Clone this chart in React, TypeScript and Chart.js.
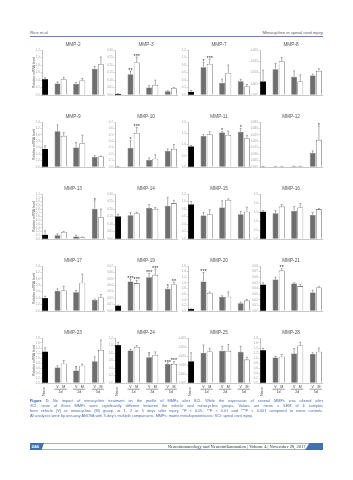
import React, { useEffect, useRef } from "react";
import { Chart, registerables } from "chart.js";

Chart.register(...registerables);
Chart.defaults.font.family = "'Liberation Sans', Arial, sans-serif";

// ---------------- DATA ----------------
const TITLES = [
  "MMP-2", "MMP-3", "MMP-7", "MMP-8",
  "MMP-9", "MMP-10", "MMP-11", "MMP-12",
  "MMP-13", "MMP-14", "MMP-15", "MMP-16",
  "MMP-17", "MMP-19", "MMP-20", "MMP-21",
  "MMP-23", "MMP-24", "MMP-25", "MMP-28",
];

const SLOT_LABELS = ["Naive", "", "V", "M", "", "V", "M", "", "V", "M"];
const DAY_LABELS = ["1d", "2d", "5d"];
const Y_AXIS_TITLE = "Relative mRNA level";

const Y_MAX = [1.2, 0.3, 1.2, 0.02, 1.4, 0.7, 2.0, 0.035, 1.2, 0.3, 1.2, 2.5, 1.4, 0.07, 1.6, 0.08, 1.8, 1.2, 0.025, 1.8];
const Y_STEP = [0.2, 0.05, 0.2, 0.005, 0.2, 0.1, 0.5, 0.005, 0.1, 0.05, 0.2, 0.5, 0.2, 0.01, 0.2, 0.01, 0.2, 0.2, 0.005, 0.2];
const Y_DECIMALS = [1, 2, 1, 3, 1, 1, 1, 3, 1, 2, 1, 1, 1, 2, 1, 2, 1, 1, 3, 1];

const NAIVE_MEAN = [0.42, 0.007, 0.08, 0.006, 0.56, 0.005, 0.91, 0.0001, 0.11, 0.15, 0.92, 1.51, 0.4, 0.0082, 0.07, 0.0467, 1.25, 1.01, 0.012, 1.31];
const NAIVE_SEM = [0.04, 0.002, 0.04, 0.005, 0.1, 0.001, 0.05, 0.0001, 0.11, 0.015, 0.08, 0.07, 0.06, 0.001, 0.01, 0.0035, 0.16, 0.07, 0.0048, 0.08];

// vehicle (V) at 1d, 2d, 5d
const VEHICLE_MEAN = [
  [0.31, 0.3, 0.7], [0.138, 0.05, 0.025], [0.74, 0.32, 0.37], [0.0114, 0.0081, 0.0087],
  [1.11, 0.61, 0.31], [0.3, 0.11, 0.25], [1.38, 1.53, 1.57], [0.0003, 0.0005, 0.0108],
  [0.1, 0.07, 0.81], [0.159, 0.207, 0.221], [0.63, 0.84, 0.66], [1.43, 1.56, 1.34],
  [0.63, 0.58, 0.34], [0.046, 0.0526, 0.0347], [1.05, 0.51, 0.28], [0.0561, 0.049, 0.0327],
  [0.62, 0.5, 0.87], [0.87, 0.69, 0.51], [0.0168, 0.0179, 0.0173], [1.02, 1.18, 1.16],
];
const VEHICLE_SEM = [
  [0.04, 0.04, 0.06], [0.022, 0.013, 0.004], [0.13, 0.1, 0.05], [0.0027, 0.0026, 0.0005],
  [0.2, 0.15, 0.05], [0.11, 0.03, 0.03], [0.06, 0.04, 0.15], [0.0001, 0.0001, 0.0018],
  [0.04, 0.03, 0.21], [0.017, 0.022, 0.057], [0.08, 0.18, 0.08], [0.15, 0.24, 0.13],
  [0.06, 0.06, 0.03], [0.004, 0.0061, 0.0026], [0.32, 0.03, 0.04], [0.0041, 0.0012, 0.0041],
  [0.07, 0.07, 0.18], [0.03, 0.06, 0.03], [0.0043, 0.0026, 0.0031], [0.05, 0.2, 0.05],
];
// minocycline (M) at 1d, 2d, 5d
const MINO_MEAN = [
  [0.42, 0.39, 0.82], [0.217, 0.068, 0.045], [0.83, 0.59, 0.23], [0.015, 0.006, 0.0107],
  [0.97, 0.74, 0.33], [0.53, 0.13, 0.28], [1.46, 1.43, 1.28], [0.0003, 0.0005, 0.0211],
  [0.19, 0.05, 0.58], [0.172, 0.201, 0.238], [0.66, 1.04, 0.73], [1.8, 1.75, 1.65],
  [0.64, 0.88, 0.42], [0.0434, 0.0562, 0.0414], [0.64, 0.51, 0.37], [0.0718, 0.0444, 0.042],
  [0.77, 0.69, 1.32], [0.96, 0.75, 0.51], [0.0175, 0.0179, 0.013], [1.05, 1.5, 1.25],
];
const MINO_SEM = [
  [0.05, 0.05, 0.19], [0.036, 0.031, 0.005], [0.13, 0.21, 0.05], [0.0017, 0.003, 0.001],
  [0.1, 0.25, 0.01], [0.09, 0.06, 0.07], [0.11, 0.16, 0.13], [0.0001, 0.0001, 0.0108],
  [0.01, 0.005, 0.22], [0.007, 0.009, 0.02], [0.12, 0.03, 0.12], [0.11, 0.22, 0.04],
  [0.13, 0.27, 0.09], [0.0041, 0.0092, 0.0036], [0.03, 0.17, 0.04], [0.0035, 0.0029, 0.0012],
  [0.13, 0.07, 0.4], [0.04, 0.08, 0.06], [0.0018, 0.0035, 0.0013], [0.09, 0.13, 0.15],
];
const VEHICLE_SIG = [
  ["", "", ""], ["**", "", ""], ["*", "", ""], ["", "", ""],
  ["", "", ""], ["*", "", ""], ["", "*", "*"], ["", "", ""],
  ["", "", "*"], ["", "", ""], ["", "", ""], ["", "", ""],
  ["", "", ""], ["***", "***", "*"], ["***", "", ""], ["", "", ""],
  ["", "*", ""], ["", "*", "***"], ["", "", ""], ["", "", ""],
];
const MINO_SIG = [
  ["", "", ""], ["***", "", ""], ["***", "", ""], ["", "", ""],
  ["", "", ""], ["***", "", ""], ["", "", ""], ["", "", "*"],
  ["", "", ""], ["", "", ""], ["", "", ""], ["", "", ""],
  ["", "", ""], ["***", "***", "**"], ["", "", ""], ["**", "", ""],
  ["", "", ""], ["", "", "***"], ["", "", ""], ["", "", ""],
];

const CAPTION_LINES = [
  "No impact of minocycline treatment on the profile of MMPs after SCI. While the expression of several MMPs was altered after",
  "SCI, none of these MMPs were significantly different between the vehicle and minocycline groups. Values are mean \u00b1 SEM of 4 samples",
  "from vehicle (V) or minocycline (M) group, at 1, 2 or 5 days after injury. *P < 0.05, **P < 0.01 and ***P < 0.001 compared to naive controls.",
  "All analyses were by one-way ANOVA with Tukey's multiple comparisons. MMPs: matrix metalloproteinases; SCI: spinal cord injury.",
];

// ---------------- LAYOUT ----------------
const AXIS_X = [42, 115, 188, 260];
const PLOT_TOPS = [50, 122, 194, 266, 338];
const PLOT_HEIGHT = 45;
const PLOT_WIDTH = 62;
const Y_AXIS_W = 13;
const RIGHT_PAD = 2;
const TITLE_SPACE = 9;

const V_SLOTS = [2, 5, 8];
const M_SLOTS = [3, 6, 9];

const errorBarPlugin = {
  id: "errorBars",
  afterDatasetsDraw(chart: any) {
    const { ctx } = chart;
    const yScale = chart.scales.y;
    chart.data.datasets.forEach((ds: any, di: number) => {
      const meta = chart.getDatasetMeta(di);
      ds.data.forEach((v: number | null, j: number) => {
        if (v == null) return;
        const el: any = meta.data[j];
        if (!el) return;
        const sem = ds.sem[j] || 0;
        const top = yScale.getPixelForValue(v + sem);
        const x = el.x;
        ctx.save();
        ctx.strokeStyle = "#777";
        ctx.lineWidth = 0.6;
        ctx.beginPath();
        ctx.moveTo(x, el.y);
        ctx.lineTo(x, top);
        ctx.moveTo(x - 1, top);
        ctx.lineTo(x + 1, top);
        ctx.stroke();
        const star = ds.sig[j];
        if (star) {
          ctx.fillStyle = "#333";
          ctx.font = "5.5px 'Liberation Sans', Arial, sans-serif";
          ctx.textAlign = "center";
          ctx.textBaseline = "alphabetic";
          ctx.fillText(star, x, top + 0.8);
        }
        ctx.restore();
      });
    });
  },
};

function makeDayPlugin(show: boolean) {
  return {
    id: "dayLabels",
    afterDraw(chart: any) {
      if (!show) return;
      const { ctx } = chart;
      const x = chart.scales.x;
      const bottom = chart.chartArea.bottom;
      ctx.save();
      ctx.fillStyle = "#444";
      ctx.strokeStyle = "#333";
      ctx.font = "3.6px 'Liberation Sans', Arial, sans-serif";
      ctx.textAlign = "center";
      ctx.textBaseline = "middle";
      V_SLOTS.forEach((vs, g) => {
        const ms = M_SLOTS[g];
        const xv = x.getPixelForValue(vs);
        const xm = x.getPixelForValue(ms);
        ctx.fillText(SLOT_LABELS[vs], xv, bottom + 3.7);
        ctx.fillText(SLOT_LABELS[ms], xm, bottom + 3.7);
        ctx.lineWidth = 0.5;
        ctx.beginPath();
        ctx.moveTo(xv - 3, bottom + 6.2);
        ctx.lineTo(xm + 3, bottom + 6.2);
        ctx.stroke();
        ctx.fillText(DAY_LABELS[g], (xv + xm) / 2, bottom + 9.3);
      });
      const xn = x.getPixelForValue(0);
      ctx.translate(xn - 1.5, bottom + 8.5);
      ctx.rotate(-Math.PI / 2);
      ctx.fillText(SLOT_LABELS[0], 0, 0);
      ctx.restore();
    },
  };
}

function ChartCell({ index }: { index: number }) {
  const ref = useRef<HTMLCanvasElement>(null);
  const row = Math.floor(index / 4);
  const col = index % 4;
  const isBottom = row === 4;
  const left = AXIS_X[col] - Y_AXIS_W;
  const top = PLOT_TOPS[row] - TITLE_SPACE;
  const bottomSpace = isBottom ? 17 : 3;
  const width = Y_AXIS_W + PLOT_WIDTH + RIGHT_PAD;
  const height = TITLE_SPACE + PLOT_HEIGHT + bottomSpace;

  useEffect(() => {
    const canvas = ref.current;
    if (!canvas) return;
    const empty = () => SLOT_LABELS.map(() => null as number | null);
    const emptyS = () => SLOT_LABELS.map(() => "");

    const nData = empty();
    const nSem = empty();
    nData[0] = NAIVE_MEAN[index];
    nSem[0] = NAIVE_SEM[index];

    const vData = empty();
    const vSem = empty();
    const vSig = emptyS();
    const mData = empty();
    const mSem = empty();
    const mSig = emptyS();
    V_SLOTS.forEach((s, g) => {
      vData[s] = VEHICLE_MEAN[index][g];
      vSem[s] = VEHICLE_SEM[index][g];
      vSig[s] = VEHICLE_SIG[index][g];
    });
    M_SLOTS.forEach((s, g) => {
      mData[s] = MINO_MEAN[index][g];
      mSem[s] = MINO_SEM[index][g];
      mSig[s] = MINO_SIG[index][g];
    });

    const common = { grouped: false, barPercentage: 0.94, categoryPercentage: 1 };
    const dec = Y_DECIMALS[index];

    const chart = new Chart(canvas, {
      type: "bar",
      data: {
        labels: SLOT_LABELS,
        datasets: [
          { label: "Naive", data: nData, sem: nSem, sig: emptyS(), backgroundColor: "#000", borderColor: "#000", borderWidth: 0, ...common } as any,
          { label: "Vehicle (V)", data: vData, sem: vSem, sig: vSig, backgroundColor: "#6e6e6e", borderColor: "#5a5a5a", borderWidth: 0.5, ...common } as any,
          { label: "Minocycline (M)", data: mData, sem: mSem, sig: mSig, backgroundColor: "#fff", borderColor: "#333", borderWidth: 0.6, ...common } as any,
        ],
      },
      options: {
        responsive: false,
        animation: false,
        devicePixelRatio: 1,
        layout: { padding: { left: 0, right: RIGHT_PAD, top: 0, bottom: 0 } },
        plugins: {
          legend: { display: false },
          tooltip: { enabled: false },
          title: {
            display: true,
            text: TITLES[index],
            fullSize: false,
            color: "#555",
            font: { size: 4.7, weight: "normal" },
            padding: { top: 1, bottom: 2.36 },
          },
        },
        scales: {
          x: {
            type: "category",
            grid: { display: false },
            border: { display: true, color: "#a5a5a5", width: 0.6 },
            ticks: { display: false },
            afterFit: (s: any) => {
              s.height = bottomSpace;
            },
          },
          y: {
            min: 0,
            max: Y_MAX[index],
            grid: { display: true, drawOnChartArea: false, drawTicks: true, tickLength: 1.5, color: "#aaa", lineWidth: 0.5 },
            border: { display: true, color: "#999", width: 0.6 },
            ticks: {
              stepSize: Y_STEP[index],
              autoSkip: false,
              color: "#a0a0a0",
              padding: 0.8,
              font: { size: 2.8 },
              callback: (v: any) => Number(v).toFixed(dec),
            },
            title: {
              display: col === 0,
              text: Y_AXIS_TITLE,
              color: "#555",
              font: { size: 3.4 },
              padding: { top: 3, bottom: 0 },
            },
            afterFit: (s: any) => {
              s.width = Y_AXIS_W;
            },
          },
        },
      } as any,
      plugins: [errorBarPlugin, makeDayPlugin(isBottom)],
    });
    return () => chart.destroy();
  }, [index]);

  return (
    <canvas
      ref={ref}
      width={width}
      height={height}
      style={{ position: "absolute", left, top, width, height }}
    />
  );
}

export default function App() {
  const blue = "#4170b5";
  return (
    <div
      style={{
        position: "absolute",
        left: 0,
        top: 0,
        width: 353,
        height: 480,
        background: "#fff",
        overflow: "hidden",
        fontFamily: "'Liberation Sans', Arial, sans-serif",
      }}
    >
      {/* header */}
      <div style={{ position: "absolute", left: 30, top: 29.8, fontSize: 4.3, lineHeight: "5px", color: "#555", whiteSpace: "nowrap" }}>
        Rice et al
      </div>
      <div style={{ position: "absolute", right: 30, top: 29.8, fontSize: 4.3, lineHeight: "5px", color: "#555", whiteSpace: "nowrap" }}>
        Minocycline in spinal cord injury
      </div>
      <div style={{ position: "absolute", left: 30, top: 36, width: 293, height: 0.8, background: "#6f87b0" }} />

      {TITLES.map((_, i) => (
        <ChartCell key={i} index={i} />
      ))}

      {/* caption */}
      <div style={{ position: "absolute", left: 30, top: 398.5, width: 293, fontSize: 3.85, lineHeight: "5.3px", color: "#4a6db0" }}>
        {CAPTION_LINES.map((line, i) => (
          <div
            key={i}
            style={{
              whiteSpace: "nowrap",
              textAlign: "justify",
              textAlignLast: i < CAPTION_LINES.length - 1 ? "justify" : "left",
              height: 5.3,
            }}
          >
            {i === 0 && <b style={{ color: "#2f5ca3" }}>Figure 1: </b>}
            {line}
          </div>
        ))}
      </div>

      {/* footer */}
      <div style={{ position: "absolute", left: 30, top: 443.2, width: 293, height: 6.6, borderTop: "0.6px solid #9fb0cc", borderBottom: "0.6px solid #9fb0cc", boxSizing: "border-box" }} />
      <div
        style={{
          position: "absolute",
          left: 30,
          top: 443,
          width: 14,
          height: 7,
          background: blue,
          clipPath: "polygon(0 0, 100% 0, 82% 100%, 0 100%)",
          color: "#fff",
          fontSize: 4.4,
          fontWeight: "bold",
          lineHeight: "7px",
          paddingLeft: 1.5,
          boxSizing: "border-box",
        }}
      >
        246
      </div>
      <div
        style={{
          position: "absolute",
          right: 47.5,
          top: 443.5,
          fontSize: 4.5,
          lineHeight: "6px",
          color: "#333",
          whiteSpace: "nowrap",
          fontFamily: "'Liberation Serif', 'Times New Roman', serif",
        }}
      >
        Neuroimmunology and Neuroinflammation | Volume 4 | November 28, 2017
      </div>
      <div
        style={{
          position: "absolute",
          left: 305,
          top: 443,
          width: 18,
          height: 7,
          background: blue,
          clipPath: "polygon(25% 0, 100% 0, 100% 100%, 0 100%)",
        }}
      />
    </div>
  );
}
